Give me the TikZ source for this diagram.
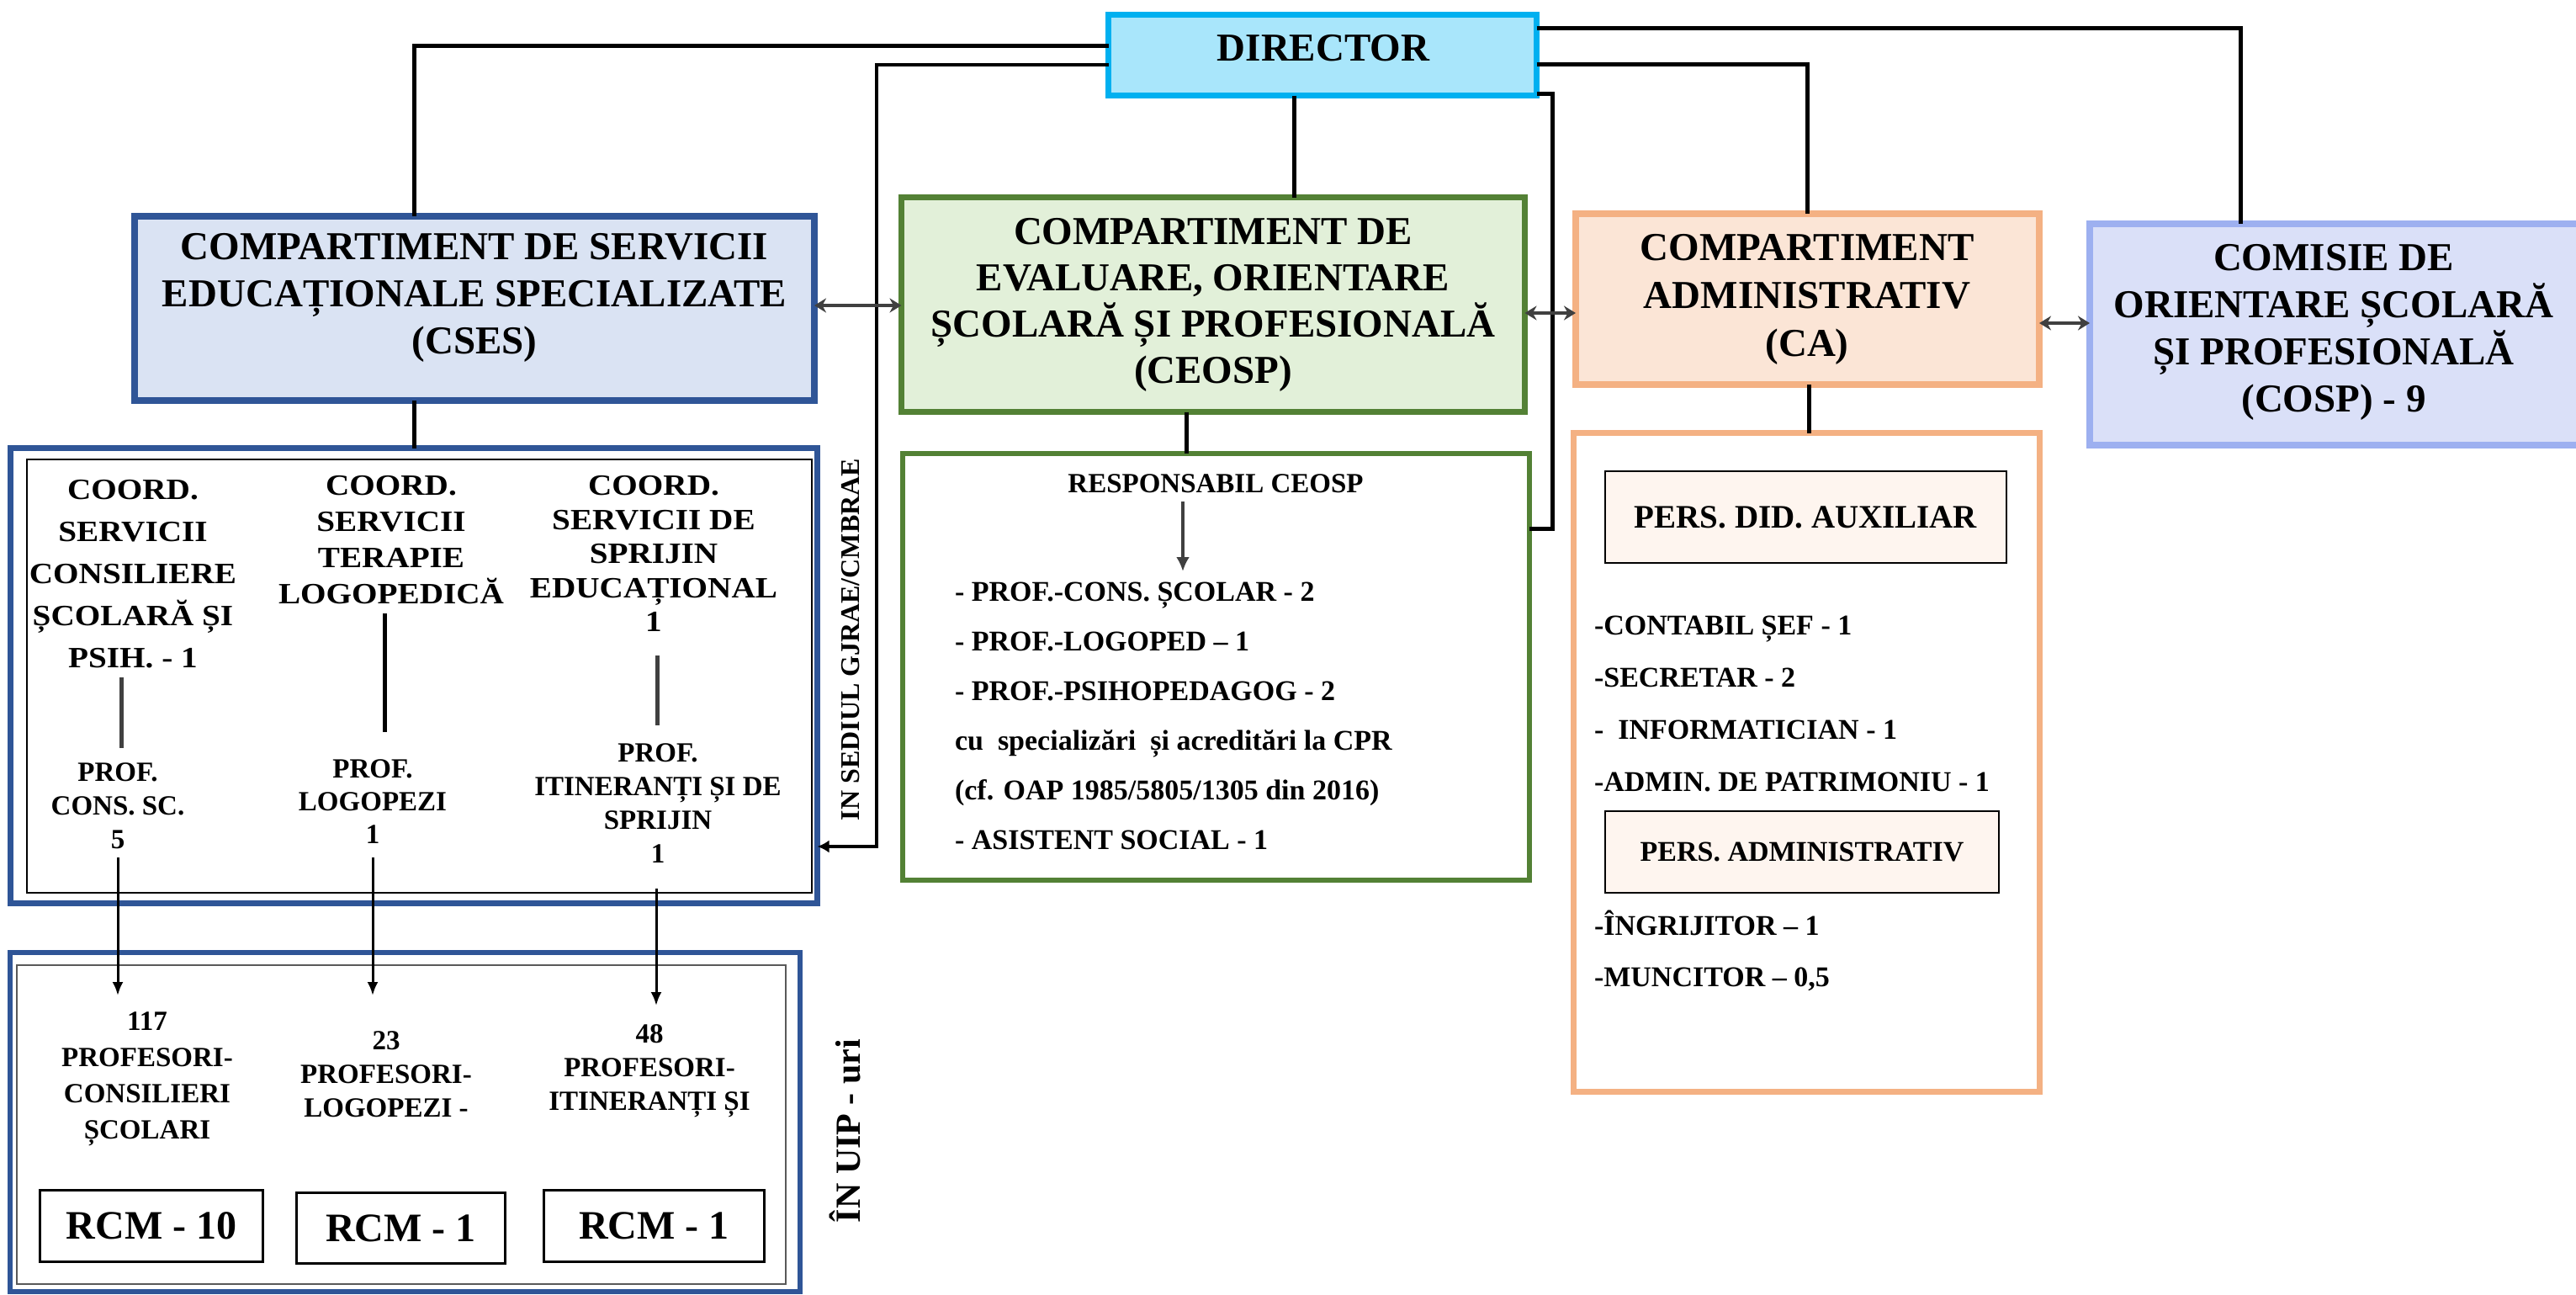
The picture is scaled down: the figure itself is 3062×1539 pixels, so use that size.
\documentclass[tikz,border=0pt]{standalone}
\usepackage{fontspec}
\setmainfont{Liberation Serif}
\newfontfamily\widefont[FakeStretch=1.12]{Liberation Serif}
\usetikzlibrary{arrows.meta}
\definecolor{dirfill}{HTML}{A9E6FB}
\definecolor{dirline}{HTML}{00B0F0}
\definecolor{csesfill}{HTML}{DAE3F3}
\definecolor{csesline}{HTML}{2F5597}
\definecolor{ceofill}{HTML}{E2F0D9}
\definecolor{ceoline}{HTML}{538135}
\definecolor{cafill}{HTML}{FBE5D6}
\definecolor{caline}{HTML}{F4B183}
\definecolor{cospfill}{HTML}{DAE0F8}
\definecolor{cospline}{HTML}{9DB0F0}
\definecolor{persfill}{HTML}{FEF5EF}
\definecolor{darkgr}{HTML}{404040}
\definecolor{midgr}{HTML}{595959}
\newcommand\myfs[2]{\fontsize{#1}{#2}\selectfont}
\begin{document}
\begin{tikzpicture}[x=1pt,y=-1pt,
  box/.style={rectangle,inner sep=0pt,outer sep=0pt},
  txt/.style={inner sep=0pt,outer sep=0pt,align=center},
  conn/.style={draw=black,line width=5pt},
  thinconn/.style={draw=black,line width=4pt},
  dbl/.style={draw=darkgr,line width=3.5pt,arrows={Stealth[length=14pt,width=17pt]-Stealth[length=14pt,width=17pt]}},
  colline/.style={line width=5pt},
  downarrow/.style={draw=black,line width=3pt,arrows={-Latex[length=16pt,width=13pt]}}]
\fill[white] (0,0) rectangle (3062,1539);
\useasboundingbox (0,0) rectangle (3062,1539);

% top-level boxes
\node[box,draw=dirline,fill=dirfill,line width=7pt,minimum width=509pt,minimum height=96pt] (dir) at (1572,65.5) {};
\node[box,draw=csesline,fill=csesfill,line width=8pt,minimum width=808pt,minimum height=219pt] (cses) at (564,366.5) {};
\node[box,draw=ceoline,fill=ceofill,line width=7pt,minimum width=741pt,minimum height=255pt] (ceosp) at (1442,362) {};
\node[box,draw=caline,fill=cafill,line width=8pt,minimum width=551pt,minimum height=203pt] (ca) at (2148.5,355.5) {};
\node[box,draw=cospline,fill=cospfill,line width=8pt,minimum width=590pt,minimum height=263pt] (cosp) at (2779,397.5) {};

\node[txt,font={\bfseries\myfs{47}{56}}] (dirtxt) at (1573,57) {DIRECTOR};
\node[txt,font={\bfseries\myfs{47}{56}}] (csestxt) at (564,354) {COMPARTIMENT DE SERVICII\\EDUCAȚIONALE SPECIALIZATE\\(CSES)};
\node[txt,font={\bfseries\myfs{47}{55}}] (ceosptxt) at (1442,362) {COMPARTIMENT DE\\EVALUARE, ORIENTARE\\ȘCOLARĂ ȘI PROFESIONALĂ\\(CEOSP)};
\node[txt,font={\bfseries\myfs{47}{57}}] (catxt) at (2148,356) {COMPARTIMENT\\ADMINISTRATIV\\(CA)};
\node[txt,font={\bfseries\myfs{47}{56}}] (cosptxt) at (2774,395) {COMISIE DE\\ORIENTARE ȘCOLARĂ\\ȘI PROFESIONALĂ\\(COSP) - 9};

% lower boxes
\node[box,draw=csesline,line width=7pt,minimum width=959pt,minimum height=541pt] (cseslow) at (492,803) {};
\node[box,draw=black,line width=1.5pt,minimum width=933pt,minimum height=515pt] (csesin) at (498.5,803.5) {};
\node[box,draw=csesline,line width=6pt,minimum width=939pt,minimum height=403pt] (uiplow) at (481.5,1333.5) {};
\node[box,draw=midgr,line width=2pt,minimum width=914pt,minimum height=379pt] (uipin) at (477,1336.5) {};
\node[box,draw=ceoline,line width=6pt,minimum width=745pt,minimum height=507pt] (ceosplow) at (1445.5,792.5) {};
\node[box,draw=caline,line width=7pt,minimum width=554pt,minimum height=783pt] (calow) at (2147.5,906) {};

\node[box,draw=black,fill=persfill,line width=2pt,minimum width=477pt,minimum height=109pt,font={\bfseries\myfs{39}{44}}] (pers1) at (2146.5,614.5) {PERS. DID. AUXILIAR};
\node[box,draw=black,fill=persfill,line width=2pt,minimum width=468pt,minimum height=97pt,font={\bfseries\myfs{34}{40}}] (pers2) at (2142,1012.5) {PERS. ADMINISTRATIV};

\node[box,draw=black,line width=3pt,minimum width=265pt,minimum height=85pt,font={\bfseries\myfs{48}{54}}] (rcm1) at (180,1457) {RCM - 10};
\node[box,draw=black,line width=3pt,minimum width=248pt,minimum height=84pt,font={\bfseries\myfs{48}{54}}] (rcm2) at (476.5,1459.5) {RCM - 1};
\node[box,draw=black,line width=3pt,minimum width=262pt,minimum height=85pt,font={\bfseries\myfs{48}{54}}] (rcm3) at (777.5,1457) {RCM - 1};

% column texts
\node[txt,font={\widefont\bfseries\myfs{35}{50}}] (c1top) at (158,682) {COORD.\\SERVICII\\CONSILIERE\\ȘCOLARĂ ȘI\\PSIH. - 1};
\node[txt,font={\widefont\bfseries\myfs{35}{43}}] (c2top) at (465,642) {COORD.\\SERVICII\\TERAPIE\\LOGOPEDICĂ};
\node[txt,font={\widefont\bfseries\myfs{35}{40.5}}] (c3top) at (777,658) {COORD.\\SERVICII DE\\SPRIJIN\\EDUCAȚIONAL\\1};
\node[txt,font={\bfseries\myfs{33}{40}}] (c1bot) at (140,958) {PROF.\\CONS. SC.\\5};
\node[txt,font={\bfseries\myfs{33}{39}}] (c2bot) at (443,953) {PROF.\\LOGOPEZI\\1};
\node[txt,font={\bfseries\myfs{33}{40}}] (c3bot) at (782,955) {PROF.\\ITINERANȚI ȘI DE\\SPRIJIN\\1};

\node[txt,font={\bfseries\myfs{33}{43}}] (u1) at (175,1282) {117\\PROFESORI-\\CONSILIERI\\ȘCOLARI};
\node[txt,font={\bfseries\myfs{33}{40}}] (u2) at (459,1277) {23\\PROFESORI-\\LOGOPEZI -};
\node[txt,font={\bfseries\myfs{33}{40}}] (u3) at (772,1273) {48\\PROFESORI-\\ITINERANȚI ȘI};

\node[txt,rotate=90,font={\bfseries\myfs{32}{38}}] (gjrae) at (1011,760) {IN SEDIUL GJRAE/CMBRAE};
\node[txt,rotate=90,font={\bfseries\myfs{42}{48}}] (uip) at (1005,1344) {ÎN UIP - uri};

% CEOSP lower content
\node[txt,font={\bfseries\myfs{33}{40}}] (resp) at (1445,575) {RESPONSABIL CEOSP};
\node[txt,align=left,anchor=west,font={\bfseries\myfs{34}{59}}] (ceolist) at (1135,850.5) {- PROF.-CONS. ȘCOLAR - 2\\- PROF.-LOGOPED – 1\\- PROF.-PSIHOPEDAGOG - 2\\cu\ \ specializări\ \ și acreditări la CPR\\(cf. OAP 1985/5805/1305 din 2016)\\- ASISTENT SOCIAL - 1};

% CA lower content
\node[txt,align=left,anchor=west,font={\bfseries\myfs{34}{62}}] (calist1) at (1895,836.5) {-CONTABIL ȘEF - 1\\-SECRETAR - 2\\-\ \ INFORMATICIAN - 1\\-ADMIN. DE PATRIMONIU - 1};
\node[txt,align=left,anchor=west,font={\bfseries\myfs{34}{61}}] (calist2) at (1895,1129.5) {-ÎNGRIJITOR – 1\\-MUNCITOR – 0,5};

% connectors from DIRECTOR
\draw[conn] (dir.west |- 0,54) -| (492,0 |- cses.north);
\draw[thinconn,-{Latex[length=14pt,width=15pt]}] (dir.west |- 0,77) -| (1042,1006) -- (cseslow.east |- 0,1006);
\draw[conn] (dir.east |- 0,33) -| (2663,0 |- cosp.north);
\draw[conn] (dir.east |- 0,76) -| (2148,0 |- ca.north);
\draw[conn] (dir.east |- 0,111) -| (1845,628) -- (ceosplow.east |- 0,628);
\draw[conn] (1538,0 |- dir.south) -- (1538,0 |- ceosp.north);
\draw[conn] (492,0 |- cses.south) -- (492,0 |- cseslow.north);
\draw[conn] (1410,0 |- ceosp.south) -- (1410,0 |- ceosplow.north);
\draw[conn] (2150,0 |- ca.south) -- (2150,0 |- calow.north);

\draw[dbl] (cses.east |- 0,363) -- (ceosp.west |- 0,363);
\draw[dbl] (ceosp.east |- 0,372) -- (ca.west |- 0,372);
\draw[dbl] (ca.east |- 0,384) -- (cosp.west |- 0,384);

% column lines and arrows
\coordinate (l1a) at (144,805); \coordinate (l1b) at (144,889);
\coordinate (l2a) at (457,729); \coordinate (l2b) at (457,870);
\coordinate (l3a) at (781,779); \coordinate (l3b) at (781,862);
\draw[colline,draw=darkgr] (l1a) -- (l1b);
\draw[colline,draw=black] (l2a) -- (l2b);
\draw[colline,draw=darkgr] (l3a) -- (l3b);
\coordinate (a1s) at (140,1019); \coordinate (a1e) at (140,1183);
\coordinate (a2s) at (443,1019); \coordinate (a2e) at (443,1183);
\coordinate (a3s) at (780,1056); \coordinate (a3e) at (780,1195);
\draw[downarrow] (a1s) -- (a1e);
\draw[downarrow] (a2s) -- (a2e);
\draw[downarrow] (a3s) -- (a3e);

\coordinate (ra) at (1406,596); \coordinate (rb) at (1406,679);
\draw[draw=darkgr,line width=4pt,-{Latex[length=17pt,width=16pt]}] (ra) -- (rb);
\end{tikzpicture}
\end{document}
